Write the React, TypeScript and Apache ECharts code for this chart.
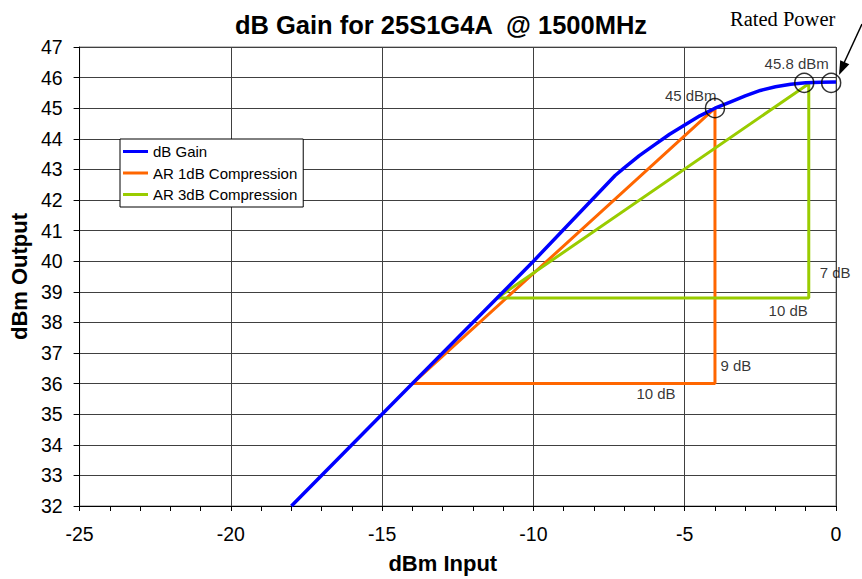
import React, { useEffect, useRef } from "react";
import * as echarts from "echarts";

const FONT = "'Liberation Sans', Arial, sans-serif";

const X_MIN = -25;
const X_MAX = 0;
const X_STEP = 5;
const Y_MIN = 32;
const Y_MAX = 47;
const Y_STEP = 1;

const seriesNames = ["dB Gain", "AR 1dB Compression", "AR 3dB Compression"];

const gainCurve: [number, number][] = [
  [-18, 32], [-14, 36], [-10, 40], [-7.3, 42.8], [-7, 43.05], [-6.5, 43.45],
  [-6, 43.8], [-5.5, 44.15], [-5, 44.45], [-4.5, 44.75], [-4, 45.0],
  [-3.5, 45.2], [-3, 45.4], [-2.5, 45.58], [-2, 45.7], [-1.5, 45.78],
  [-1, 45.83], [-0.5, 45.85], [0, 45.86],
];

const ar1dB: [number, number][] = [
  [-14, 36], [-4, 45], [-4, 36], [-14, 36],
];

const ar3dB: [number, number][] = [
  [-11.2, 38.8], [-0.9, 45.8], [-0.9, 38.8], [-11.2, 38.8],
];

const markerPoints: [number, number][] = [
  [-4, 45], [-1.05, 45.83], [-0.16, 45.83],
];

const annotationPoints: [number, number][] = [
  [-4.8, 45.43], [-1.3, 46.45], [-3.31, 36.58], [-5.95, 35.67], [-1.58, 38.4], [-0.03, 39.63],
];
const annotationTexts = ["45 dBm", "45.8 dBm", "9 dB", "10 dB", "10 dB", "7 dB"];

export default function App() {
  const ref = useRef<HTMLDivElement>(null);
  useEffect(() => {
    if (!ref.current) return;
    const chart = echarts.init(ref.current, null, { renderer: "svg" });
    chart.setOption({
      animation: false,
      backgroundColor: "#ffffff",
      title: {
        text: "dB Gain for 25S1G4A  @ 1500MHz",
        left: 441,
        textAlign: "center",
        top: 12,
        padding: 0,
        textStyle: { fontFamily: FONT, fontSize: 25.5, fontWeight: "bold", color: "#000" },
      },
      grid: {
        left: 76, right: 26, top: 47, bottom: 70,
        show: true, borderColor: "#808080", borderWidth: 1, backgroundColor: "transparent",
      },
      legend: {
        data: seriesNames,
        orient: "vertical",
        left: 120,
        top: 139,
        padding: [5, 6, 5, 3],
        itemGap: 6.5,
        itemWidth: 25,
        itemHeight: 3,
        icon: "rect",
        borderColor: "#000",
        borderWidth: 1,
        borderRadius: 0,
        backgroundColor: "#fff",
        textStyle: { fontFamily: FONT, fontSize: 15, color: "#000" },
      },
      xAxis: {
        type: "value",
        min: X_MIN, max: X_MAX, interval: X_STEP,
        name: "dBm Input",
        nameLocation: "middle",
        nameGap: 46,
        nameTextStyle: { fontFamily: FONT, fontSize: 22, fontWeight: "bold", color: "#000", padding: [0, 30, 0, 0] },
        axisLine: { show: true, onZero: false, lineStyle: { color: "#000", width: 1 } },
        axisTick: { show: true, inside: false, length: 5, lineStyle: { color: "#000" } },
        minorTick: { show: true, splitNumber: 5, length: 5, lineStyle: { color: "#000" } },
        axisLabel: { fontFamily: FONT, fontSize: 19.5, color: "#000", margin: 18 },
        splitLine: { show: true, lineStyle: { color: "#404040", width: 1 } },
      },
      yAxis: {
        type: "value",
        min: Y_MIN, max: Y_MAX, interval: Y_STEP,
        name: "dBm Output",
        nameLocation: "middle",
        nameGap: 40,
        nameTextStyle: { fontFamily: FONT, fontSize: 22, fontWeight: "bold", color: "#000" },
        axisLine: { show: true, onZero: false, lineStyle: { color: "#000", width: 1 } },
        axisTick: { show: true, inside: false, length: 6, lineStyle: { color: "#000" } },
        axisLabel: { fontFamily: FONT, fontSize: 19.5, color: "#000", margin: 17 },
        splitLine: { show: true, lineStyle: { color: "#404040", width: 1 } },
      },
      series: [
        {
          name: seriesNames[0], type: "line", data: gainCurve, symbol: "none",
          lineStyle: { color: "#0000FF", width: 3.5 }, itemStyle: { color: "#0000FF" }, z: 3,
        },
        {
          name: seriesNames[1], type: "line", data: ar1dB, symbol: "none",
          lineStyle: { color: "#FF6600", width: 3 }, itemStyle: { color: "#FF6600" }, z: 2,
        },
        {
          name: seriesNames[2], type: "line", data: ar3dB, symbol: "none",
          lineStyle: { color: "#99CC00", width: 3 }, itemStyle: { color: "#99CC00" }, z: 2,
        },
        {
          name: "markers", type: "scatter", data: markerPoints, symbol: "circle", symbolSize: 19,
          itemStyle: { color: "rgba(0,0,0,0)", borderColor: "#000", borderWidth: 1.5 }, z: 5,
          clip: false, silent: true,
        },
        {
          name: "annotations", type: "scatter", symbolSize: 1, clip: false, silent: true,
          itemStyle: { color: "rgba(0,0,0,0)" },
          data: annotationPoints.map((p, i) => ({
            value: p,
            label: {
              show: true, position: "inside", formatter: annotationTexts[i],
              fontFamily: FONT, fontSize: 15, color: "#000", textBorderWidth: 0,
            },
          })),
          z: 6,
        },
      ],
      graphic: [
        {
          type: "text", left: 730, top: 8,
          style: { text: "Rated Power", fontFamily: "'Liberation Serif', 'Times New Roman', serif", fontSize: 20.5, fill: "#000" },
        },
        {
          type: "line", shape: { x1: 862, y1: 24, x2: 844, y2: 63 },
          style: { stroke: "#000", lineWidth: 1.5 },
        },
        {
          type: "polygon", shape: { points: [[839, 75], [849.3, 64.3], [840.2, 60.2]] },
          style: { fill: "#000" },
        },
      ],
    });
    return () => chart.dispose();
  }, []);
  return (
    <div
      ref={ref}
      style={{ position: "fixed", left: 0, top: 0, width: 862, height: 579, background: "#fff" }}
    />
  );
}
